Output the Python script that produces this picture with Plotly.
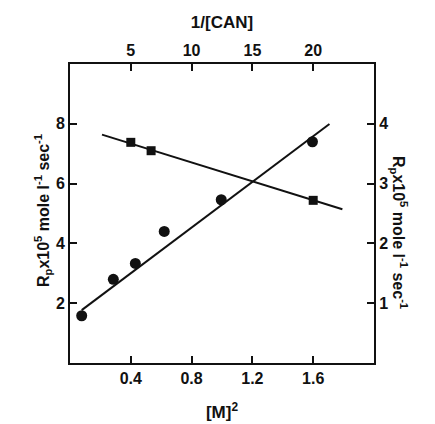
import numpy as np
import plotly.graph_objects as go

# Rate vs [M]^2 (left axis, bottom axis)
m_sq = [0.077, 0.285, 0.43, 0.62, 0.995, 1.595]
rp_m = [1.58, 2.80, 3.33, 4.40, 5.46, 7.40]
# Rate vs 1/[CAN] (right axis, top axis)
inv_can = [5.0, 6.67, 20.0]
rp_can = [3.69, 3.55, 2.72]

# Straight-line fits drawn through each series
m_fit = dict(intercept=1.475, slope=3.82, span=[0.077, 1.707])
can_fit = dict(intercept=3.986, slope=-0.0632, span=[2.63, 22.4])

xticks_m = [0.4, 0.8, 1.2, 1.6]
xticks_can = [5, 10, 15, 20]
yticks_left = [2, 4, 6, 8]
yticks_right = [1, 2, 3, 4]

FONT = "Liberation Sans"
BLACK = "#111111"


def font(size):
    return dict(family=FONT, size=size, color=BLACK, weight="bold")


fx = np.array(m_fit["span"])
gx = np.array(can_fit["span"])

fig = go.Figure()
fig.add_trace(go.Scatter(x=fx, y=m_fit["intercept"] + m_fit["slope"] * fx,
                         mode="lines", line=dict(color=BLACK, width=2),
                         xaxis="x", yaxis="y", showlegend=False))
fig.add_trace(go.Scatter(x=m_sq, y=rp_m, mode="markers",
                         marker=dict(symbol="circle", size=11, color=BLACK),
                         xaxis="x", yaxis="y", showlegend=False))
fig.add_trace(go.Scatter(x=gx, y=can_fit["intercept"] + can_fit["slope"] * gx,
                         mode="lines", line=dict(color=BLACK, width=2),
                         xaxis="x2", yaxis="y2", showlegend=False))
fig.add_trace(go.Scatter(x=inv_can, y=rp_can, mode="markers",
                         marker=dict(symbol="square", size=9, color=BLACK),
                         xaxis="x2", yaxis="y2", showlegend=False))

axis_common = dict(showgrid=False, zeroline=False, showline=True, linewidth=2,
                   linecolor=BLACK, ticks="inside", ticklen=7, tickwidth=2,
                   tickcolor=BLACK, tickfont=font(16), automargin=False)

fig.update_layout(
    width=435, height=424,
    margin=dict(l=70, r=61, t=64, b=61),
    paper_bgcolor="white", plot_bgcolor="white",
    xaxis=dict(range=[0, 2.0], tickvals=xticks_m,
               ticktext=[f"{v:.1f}" for v in xticks_m], side="bottom",
               title=dict(text="[M]<sup>2</sup>", font=font(17), standoff=20),
               **axis_common),
    xaxis2=dict(range=[0, 25], tickvals=xticks_can, overlaying="x", side="top",
                anchor="y",
                title=dict(text="1/[CAN]", font=font(17), standoff=9),
                **axis_common),
    yaxis=dict(range=[0, 10], tickvals=yticks_left, side="left", **axis_common),
    yaxis2=dict(range=[0, 5], tickvals=yticks_right, overlaying="y", side="right",
                anchor="x", **axis_common),
)

ytitle = "R<sub>p</sub>x10<sup>5</sup> mole l<sup>-1</sup> sec<sup>-1</sup>"
fig.add_annotation(text=ytitle, textangle=-90, x=30, y=211, xref="paper", yref="paper",
                   showarrow=False, font=font(16))
fig.add_annotation(text=ytitle, textangle=90, x=412, y=232, xref="paper", yref="paper",
                   showarrow=False, font=font(16))

# place title annotations in pixel coordinates
pw, ph = 435 - 70 - 61, 424 - 64 - 61
for ann in fig.layout.annotations:
    ann.x = (ann.x - 70) / pw
    ann.y = (424 - 61 - ann.y) / ph

fig.write_html("out.html")
